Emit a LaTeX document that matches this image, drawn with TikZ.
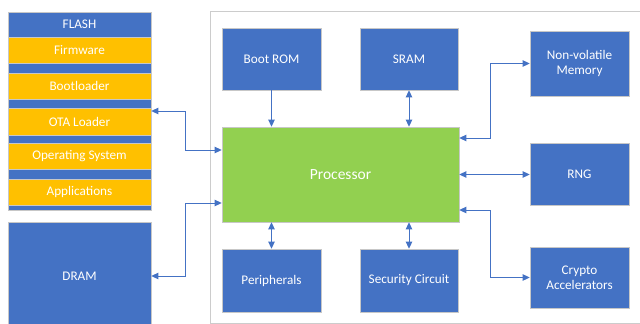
\documentclass[tikz,border=0pt]{standalone}
\usepackage{fontspec}
\setmainfont{Carlito}
\usetikzlibrary{arrows.meta,calc}
\definecolor{bl}{HTML}{4472C4}
\definecolor{ye}{HTML}{FFC000}
\definecolor{gr}{HTML}{92D050}
\begin{document}
\begin{tikzpicture}[x=1pt,y=-1pt,
  blk/.style={draw=black!22, line width=0.7pt, fill=bl, text=white, inner sep=0pt, align=center,
    font=\fontsize{13.2}{15}\selectfont},
  ylw/.style={blk, fill=ye},
  conn/.style={draw=bl, line width=1pt, -{Triangle[length=7pt,width=6.5pt]}},
  dconn/.style={draw=bl, line width=1pt, {Triangle[length=7pt,width=6.5pt]}-{Triangle[length=7pt,width=6.5pt]}}]
\useasboundingbox (0,0) rectangle (640,324);
% container
\draw[black!20, line width=0.8pt] (210,11) rectangle (660,323);
% FLASH stack
\node[blk, minimum width=143pt, minimum height=198pt] (flash) at (79.5,111) {};
\node[text=white, inner sep=0pt, font=\fontsize{13.2}{15}\selectfont] (flashlbl) at (79.5,24) {FLASH};
\node[ylw, minimum width=143pt, minimum height=26pt] (fw) at (79.5,50) {Firmware};
\node[ylw, minimum width=143pt, minimum height=26pt] (boot) at (79.5,86) {Bootloader};
\node[ylw, minimum width=143pt, minimum height=27pt] (ota) at (79.5,121.5) {OTA Loader};
\node[ylw, minimum width=143pt, minimum height=26pt] (os) at (79.5,156) {Operating System};
\node[ylw, minimum width=143pt, minimum height=26pt] (app) at (79.5,192) {Applications};
\node[blk, minimum width=143pt, minimum height=108pt] (dram) at (79.5,276) {DRAM};
% inner blocks
\node[blk, minimum width=99pt, minimum height=62pt] (rom) at (271.5,59) {Boot ROM};
\node[blk, minimum width=98pt, minimum height=62pt] (sram) at (409,59) {SRAM};
\node[blk, fill=gr, minimum width=237pt, minimum height=95pt, font=\fontsize{15.5}{18}\selectfont] (proc) at (340.5,174.5) {Processor};
\node[blk, minimum width=99pt, minimum height=63pt] (peri) at (271.5,280.5) {Peripherals};
\node[blk, minimum width=98pt, minimum height=63pt] (sec) at (409,280.5) {Security Circuit};
\node[blk, minimum width=99pt, minimum height=65pt] (nvm) at (579.5,63.5) {Non-volatile\\Memory};
\node[blk, minimum width=99pt, minimum height=62pt] (rng) at (579.5,174.5) {RNG};
\node[blk, minimum width=99pt, minimum height=61pt] (cry) at (579.5,277.5) {Crypto\\Accelerators};
% connectors
\draw[conn] (rom.south) -- (rom.south |- proc.north);
\draw[dconn] (sram.south) -- (sram.south |- proc.north);
\draw[dconn] (peri.north) -- (peri.north |- proc.south);
\draw[dconn] (sec.north) -- (sec.north |- proc.south);
\draw[dconn] ([yshift=10.5pt]ota.east) -- ++(34,0) |- ([yshift=24.5pt]proc.west);
\draw[dconn] (dram.east) -- ++(34,0) |- ([yshift=-28.5pt]proc.west);
\draw[dconn] ([yshift=36.5pt]proc.east) -- ++(31,0) |- (nvm.west);
\draw[dconn] (proc.east) -- (rng.west);
\draw[dconn] ([yshift=-35.5pt]proc.east) -- ++(31,0) |- (cry.west);
\end{tikzpicture}
\end{document}
